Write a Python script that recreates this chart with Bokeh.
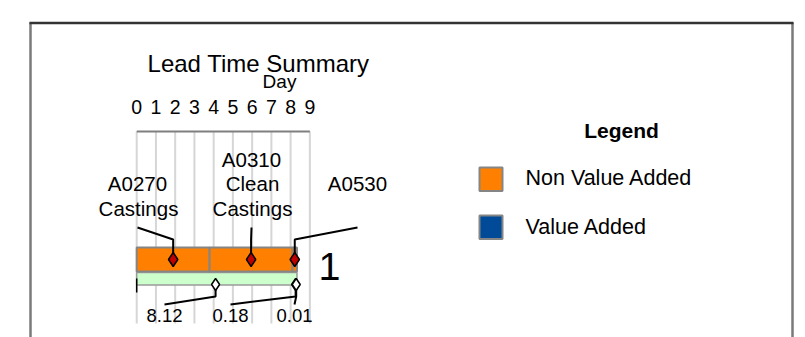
from bokeh.plotting import figure
from bokeh.models import Range1d
from bokeh.core.properties import value
from bokeh.embed import file_html
from bokeh.resources import INLINE

# ---------------- data ----------------
processes = ["A0270\nCastings", "A0310\nClean\nCastings", "A0530\n"]
nva_days = [3.79, 4.31, 0.23]           # non value added time per process (days)
va_marker_days = [4.10, 8.26, 8.29]     # value added points along the timeline bar
va_values = [8.12, 0.18, 0.01]          # value added figures shown under the timeline
day_ticks = list(range(10))
day_tick_labels = [str(d) for d in day_ticks]
count_label = "1"
legend_labels = ["Non Value Added", "Value Added"]
legend_colors = ["#FF8000", "#004A98"]

# ---------------- layout ----------------
W, H = 805, 337
X0 = 136.2      # pixel position of day 0
PXD = 19.24     # pixels per day
FONT = value("Liberation Sans")


def to_day(px):
    return (px - X0) / PXD


p = figure(width=W, height=H, x_range=Range1d(0, W), y_range=Range1d(H, 0),
           min_border=0, toolbar_location=None, output_backend="svg")
p.extra_x_ranges = {"days": Range1d(start=to_day(0), end=to_day(W))}
p.axis.visible = False
p.grid.visible = False
p.outline_line_color = None
p.background_fill_color = "white"
p.border_fill_color = "white"


def label(x, y, text, size, align="center", style="normal", rng="default"):
    p.text(x=x, y=y, text=text, text_font=FONT, text_font_size=value(size),
           text_font_style=style, text_align=align, text_baseline="middle",
           text_color="black", x_range_name=rng)


# outer frame
p.multi_line(xs=[[30, 30], [792, 792]], ys=[[22, H], [22, H]],
             line_color="#7a7a7a", line_width=2.5)
p.line(x=[29, 793], y=[22.5, 22.5], line_color="#333333", line_width=2.5)

# title and day scale
label([258], [63.3], ["Lead Time Summary"], "24px")
label([279], [81], ["Day"], "19px")

p.segment(x0=day_ticks, y0=[131] * len(day_ticks), x1=day_ticks,
          y1=[323] * len(day_ticks), line_color="#d6d6d6", line_width=2,
          x_range_name="days")
p.segment(x0=[day_ticks[0]], y0=[131], x1=[day_ticks[-1]], y1=[131],
          line_color="#7f7f7f", line_width=2, x_range_name="days")
label(day_ticks, [106.3] * len(day_ticks), day_tick_labels, "19.5px",
      rng="days")

# non value added bar, one segment per process
starts, ends = [], []
acc = 0.0
for d in nva_days:
    starts.append(acc)
    acc += d
    ends.append(acc)
mids = [(s + e) / 2 for s, e in zip(starts, ends)]
total = acc

# timeline bar under the process segments
p.quad(left=[0], right=[total], top=[272], bottom=[284.5],
       fill_color="#CCFFCC", line_color="#9a9a9a", line_width=1.5,
       x_range_name="days")
p.quad(left=starts, right=ends, top=[247] * 3, bottom=[271] * 3,
       fill_color="#FF8000", line_color="#858585", line_width=2,
       x_range_name="days")
p.segment(x0=[0], y0=[278], x1=[0], y1=[292], line_color="black",
          line_width=1.5, x_range_name="days")

# process labels with leader lines
label_px = [137, 251, 357]
label_day = [to_day(v) for v in label_px]
p.multi_line(xs=[[lx, m, m] for lx, m in zip(label_day, mids)],
             ys=[[227, 239, 256]] * 3, line_color="black", line_width=2,
             x_range_name="days")
line_gap = 24.4
for lx, name in zip(label_px, processes):
    rows = name.split("\n")
    n = len(rows)
    for i, row in enumerate(rows):
        if not row:
            continue
        label([to_day(lx + (1 if i else 0))], [207.6 - (n - 1 - i) * line_gap],
              [row], "20.5px", rng="days")
p.scatter(x=mids, y=[259] * 3, marker="diamond", size=14,
          fill_color="#C00000", line_color="black", line_width=1.5,
          x_range_name="days")

# value added markers and figures
va_label_px = [164, 230, 294]
va_label_day = [to_day(v) for v in va_label_px]
p.multi_line(xs=[[lx, m, m] for lx, m in zip(va_label_day, va_marker_days)],
             ys=[[304, 296, 289]] * 3, line_color="black", line_width=2,
             x_range_name="days")
p.scatter(x=va_marker_days, y=[284] * 3, marker="diamond", size=12,
          fill_color="white", line_color="black", line_width=1.5,
          x_range_name="days")
label(va_label_day, [315] * 3, [f"{v:.2f}" for v in va_values], "18.5px",
      rng="days")

# count at the end of the bar
label([329], [265.8], [count_label], "39.5px")

# legend
label([621], [130], ["Legend"], "21px", style="bold")
sw_tops = [167, 215]
p.quad(left=[479, 479], right=[502, 502], top=sw_tops,
       bottom=[t + 23.5 for t in sw_tops], fill_color=legend_colors,
       line_color="#858585", line_width=2)
label([525, 525], [177.8, 226.4], legend_labels, "21.5px", align="left")

open("out.html", "w").write(file_html(p, INLINE))
